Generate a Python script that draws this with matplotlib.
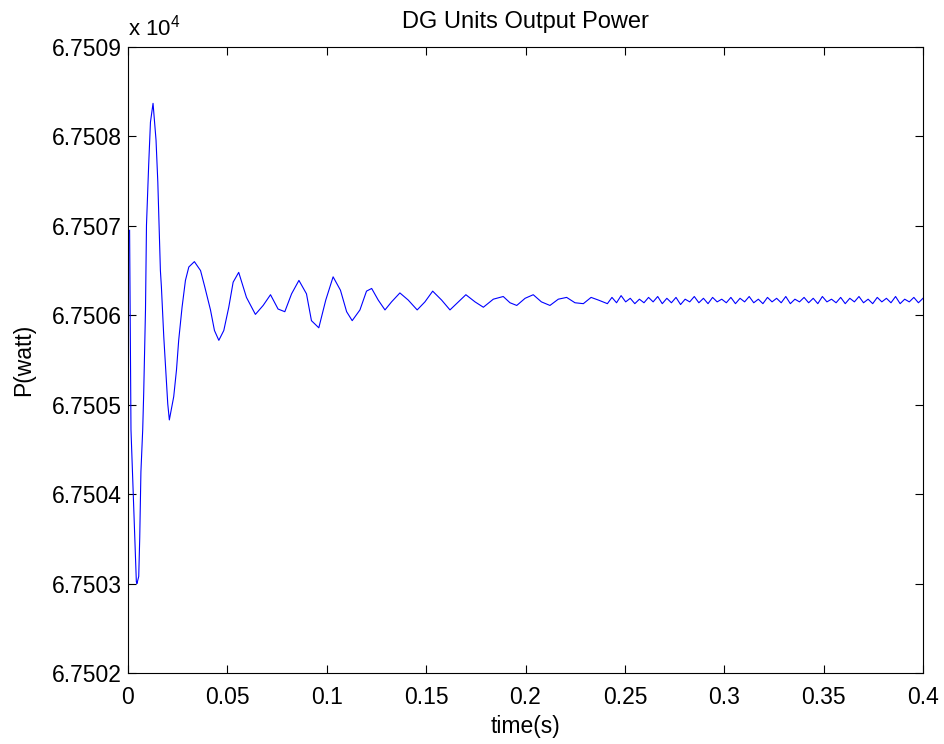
import matplotlib
matplotlib.use("Agg")
import matplotlib.pyplot as plt
from matplotlib.ticker import FuncFormatter
import numpy as np

plt.rcParams['font.family'] = ['Liberation Sans', 'DejaVu Sans']
plt.rcParams['mathtext.default'] = 'regular'

# ---- data (time in s, power in W) ----
t_transient = [0.0008, 0.0015, 0.0025, 0.0037, 0.0042, 0.0045, 0.0054, 0.0059, 0.0065, 0.0074,
               0.0079, 0.0088, 0.0093, 0.0104, 0.0113, 0.0126, 0.0141, 0.0150, 0.0158, 0.0163,
               0.0168, 0.0180, 0.0191, 0.0200, 0.0208, 0.0230, 0.0244, 0.0255, 0.0272, 0.0289,
               0.0306, 0.0334, 0.0365, 0.0386, 0.0415, 0.0435, 0.0457, 0.0482, 0.0507, 0.0529,
               0.0557, 0.0596, 0.0641, 0.0680, 0.0717, 0.0755, 0.0789, 0.0823, 0.0860, 0.0898,
               0.0923, 0.0960, 0.0995, 0.1032, 0.1069, 0.1100, 0.1128, 0.1167, 0.1200, 0.1226,
               0.1259, 0.1293, 0.1326, 0.1368, 0.1410, 0.1455, 0.1494, 0.1533, 0.1578, 0.1620,
               0.1662, 0.1700, 0.1746, 0.1788, 0.1838, 0.1888, 0.1922, 0.1956, 0.1998, 0.2039,
               0.2080, 0.2123, 0.2165, 0.2207, 0.2249, 0.2291, 0.2330, 0.2367]
p_transient = [67506.95, 67504.72, 67504.10, 67503.36, 67503.02, 67503.00, 67503.08, 67503.51, 67504.25, 67504.72,
               67505.13, 67506.06, 67507.01, 67507.68, 67508.16, 67508.37, 67507.96, 67507.49, 67506.88, 67506.50,
               67506.32, 67505.76, 67505.35, 67505.01, 67504.83, 67505.09, 67505.39, 67505.72, 67506.09, 67506.39,
               67506.54, 67506.60, 67506.50, 67506.32, 67506.06, 67505.83, 67505.72, 67505.83, 67506.09, 67506.37,
               67506.48, 67506.20, 67506.01, 67506.11, 67506.23, 67506.07, 67506.04, 67506.24, 67506.39, 67506.24,
               67505.94, 67505.86, 67506.17, 67506.43, 67506.28, 67506.04, 67505.94, 67506.06, 67506.27, 67506.30,
               67506.17, 67506.06, 67506.15, 67506.25, 67506.17, 67506.06, 67506.15, 67506.27, 67506.17, 67506.06,
               67506.15, 67506.23, 67506.15, 67506.09, 67506.18, 67506.21, 67506.14, 67506.11, 67506.19, 67506.23,
               67506.15, 67506.11, 67506.18, 67506.20, 67506.14, 67506.13, 67506.20, 67506.17]
p_steady = [67506.13, 67506.20, 67506.14, 67506.22, 67506.15, 67506.19, 67506.13, 67506.18, 67506.14, 67506.20,
            67506.15, 67506.21, 67506.13, 67506.19, 67506.14, 67506.20, 67506.12, 67506.18, 67506.15, 67506.21,
            67506.14, 67506.19, 67506.13, 67506.20, 67506.15, 67506.18, 67506.14, 67506.20, 67506.13, 67506.19,
            67506.15, 67506.21, 67506.14, 67506.18, 67506.13, 67506.20, 67506.15, 67506.19, 67506.14, 67506.21,
            67506.13, 67506.18, 67506.15, 67506.20, 67506.14, 67506.19, 67506.13, 67506.21, 67506.15, 67506.18,
            67506.14, 67506.20, 67506.13, 67506.19, 67506.15, 67506.21, 67506.14, 67506.18, 67506.13, 67506.20,
            67506.15, 67506.19, 67506.14, 67506.21, 67506.13, 67506.18, 67506.15, 67506.20, 67506.14, 67506.19]
t_steady = np.linspace(0.2412, 0.4, len(p_steady))

t = np.concatenate([t_transient, t_steady])
p = np.concatenate([p_transient, p_steady])

x_ticks = [0, 0.05, 0.1, 0.15, 0.2, 0.25, 0.3, 0.35, 0.4]
y_ticks = [67502, 67503, 67504, 67505, 67506, 67507, 67508, 67509]

fig = plt.figure(figsize=(9.45, 7.44), dpi=100)
ax = fig.add_axes([128 / 945, 71 / 744, 795 / 945, 626 / 744])
ax.plot(t, p, color='#0000FF', lw=0.8)

ax.set_xlim(0, 0.4)
ax.set_ylim(67502, 67509)
ax.set_xticks(x_ticks)
ax.set_yticks(y_ticks)
ax.xaxis.set_major_formatter(FuncFormatter(lambda v, pos: f"{v:g}"))
ax.yaxis.set_major_formatter(FuncFormatter(lambda v, pos: f"{v / 1e4:.4f}"))
ax.tick_params(direction='in', top=True, right=True, length=5.5, width=0.8,
               labelsize=16.5, colors='black')
ax.tick_params(axis='x', pad=9)
ax.tick_params(axis='y', pad=4.5)
for s in ax.spines.values():
    s.set_linewidth(0.8)

ax.set_title('DG Units Output Power', fontsize=17, pad=13.5)
ax.set_xlabel('time(s)', fontsize=16.5, labelpad=5)
ax.set_ylabel('P(watt)', fontsize=16.5, labelpad=12)
ax.text(0.0, 1.0176, 'x 10$^{4}$', transform=ax.transAxes, fontsize=16,
        ha='left', va='baseline')

fig.savefig('out.png', dpi=100)
